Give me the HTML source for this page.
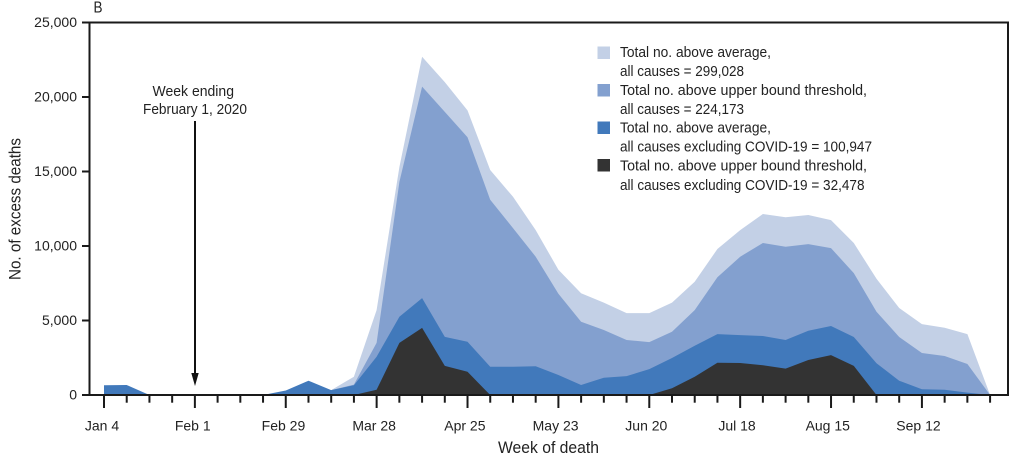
<!DOCTYPE html>
<html lang="en">
<head>
<meta charset="utf-8">
<title>Excess deaths by week</title>
<style>
  html, body { margin: 0; padding: 0; background: #fff; }
  svg { display: block; }
  text { font-family: "Liberation Sans", sans-serif; fill: #222; }
</style>
</head>
<body>
<svg id="chart" xmlns="http://www.w3.org/2000/svg" width="1020" height="467" viewBox="0 0 1020 467">
  <rect width="1020" height="467" fill="#ffffff"/>
  <g id="areas"></g>
  <g id="axes"></g>

  <text x="93.5" y="12.5" font-size="15.5" textLength="9" lengthAdjust="spacingAndGlyphs">B</text>
  <text transform="translate(20.5,280) rotate(-90)" font-size="17" textLength="142" lengthAdjust="spacingAndGlyphs">No. of excess deaths</text>
  <text x="498" y="453" font-size="17" textLength="101" lengthAdjust="spacingAndGlyphs">Week of death</text>

  <text x="152.5" y="96" font-size="14.5" textLength="81.5" lengthAdjust="spacingAndGlyphs">Week ending</text>
  <text x="143" y="114" font-size="14.5" textLength="104" lengthAdjust="spacingAndGlyphs">February 1, 2020</text>
  <line x1="195" y1="121" x2="195" y2="375" stroke="#111" stroke-width="2"/>
  <polygon points="191.3,373 198.7,373 195,386" fill="#111"/>

  <g>
    <rect x="597.5" y="46.5" width="12.5" height="12.5" fill="#c3d0e6"/>
    <text x="620" y="57" font-size="14.5" textLength="151" lengthAdjust="spacingAndGlyphs">Total no. above average,</text>
    <text x="620" y="76" font-size="14.5" textLength="124" lengthAdjust="spacingAndGlyphs">all causes = 299,028</text>
    <rect x="597.5" y="84" width="12.5" height="12.5" fill="#83a0cf"/>
    <text x="620" y="95" font-size="14.5" textLength="247" lengthAdjust="spacingAndGlyphs">Total no. above upper bound threshold,</text>
    <text x="620" y="114" font-size="14.5" textLength="124" lengthAdjust="spacingAndGlyphs">all causes = 224,173</text>
    <rect x="597.5" y="121.5" width="12.5" height="12.5" fill="#4179bb"/>
    <text x="620" y="132.7" font-size="14.5" textLength="151" lengthAdjust="spacingAndGlyphs">Total no. above average,</text>
    <text x="620" y="151.7" font-size="14.5" textLength="252" lengthAdjust="spacingAndGlyphs">all causes excluding COVID-19 = 100,947</text>
    <rect x="597.5" y="159" width="12.5" height="12.5" fill="#333333"/>
    <text x="620" y="170.7" font-size="14.5" textLength="247" lengthAdjust="spacingAndGlyphs">Total no. above upper bound threshold,</text>
    <text x="620" y="190" font-size="14.5" textLength="244.5" lengthAdjust="spacingAndGlyphs">all causes excluding COVID-19 = 32,478</text>
  </g>
</svg>
<script>
var yTickValues = [0, 5000, 10000, 15000, 20000, 25000];
var xTickLabels = ["Jan 4", "Feb 1", "Feb 29", "Mar 28", "Apr 25", "May 23", "Jun 20", "Jul 18", "Aug 15", "Sep 12"];
var weekCount = 40;

var aboveAverageAll = [0,0,0,0,0,0,0,0,0,0,330,1230,5700,15300,22700,21000,19100,15100,13300,11070,8400,6830,6200,5500,5500,6200,7600,9800,11070,12150,11930,12080,11740,10200,7800,5840,4760,4520,4090,0];
var aboveThresholdAll = [0,0,0,0,0,0,0,0,0,0,330,700,3500,14300,20700,19000,17300,13100,11200,9280,6800,4920,4360,3690,3550,4250,5700,7900,9280,10200,9950,10130,9860,8180,5590,3890,2820,2620,2080,0];
var aboveAverageExcl = [650,670,0,0,0,0,0,0,300,960,330,650,2570,5250,6500,3900,3580,1900,1900,1930,1340,670,1160,1270,1740,2480,3300,4090,4020,3960,3690,4310,4630,3890,2130,960,390,350,160,0];
var aboveThresholdExcl = [0,0,0,0,0,0,0,0,0,0,0,0,350,3500,4500,1950,1560,0,0,0,0,0,0,0,0,450,1230,2170,2150,2000,1770,2350,2680,1950,0,0,0,0,0,0];

function xScale(i) { return 104 + 22.72 * i; }
function labelX(i) { return 102 + 22.68 * i; }
function yScale(v) { return 395 - v * 372.5 / 25000; }

var NS = "http://www.w3.org/2000/svg";
var areas = document.getElementById("areas");
var axes = document.getElementById("axes");

function areaPoints(values) {
  var pts = [xScale(0).toFixed(1) + "," + yScale(0).toFixed(1)];
  for (var i = 0; i < values.length; i++) {
    pts.push(xScale(i).toFixed(1) + "," + yScale(values[i]).toFixed(1));
  }
  pts.push(xScale(values.length - 1).toFixed(1) + "," + yScale(0).toFixed(1));
  return pts.join(" ");
}

var a1 = document.createElementNS(NS, "polygon");


a1.setAttribute("points", areaPoints(aboveAverageAll));
a1.setAttribute("fill", "#c3d0e6");
areas.appendChild(a1);

var a2 = document.createElementNS(NS, "polygon");


a2.setAttribute("points", areaPoints(aboveThresholdAll));
a2.setAttribute("fill", "#83a0cf");
areas.appendChild(a2);

var a3 = document.createElementNS(NS, "polygon");


a3.setAttribute("points", areaPoints(aboveAverageExcl));
a3.setAttribute("fill", "#4179bb");
areas.appendChild(a3);

var a4 = document.createElementNS(NS, "polygon");


a4.setAttribute("points", areaPoints(aboveThresholdExcl));
a4.setAttribute("fill", "#333333");
areas.appendChild(a4);

var frame = document.createElementNS(NS, "path");


frame.setAttribute("d", "M82 " + yScale(25000) + "H1008V" + yScale(0) + "H82M89.5 " + yScale(25000) + "V" + yScale(0));
frame.setAttribute("fill", "none");
frame.setAttribute("stroke", "#1a1a1a");
frame.setAttribute("stroke-width", "2");
axes.appendChild(frame);

yTickValues.forEach(function (v) {
  var tick = document.createElementNS(NS, "line");
  
  
  tick.setAttribute("x1", 82);
  tick.setAttribute("x2", 89.5);
  tick.setAttribute("y1", yScale(v));
  tick.setAttribute("y2", yScale(v));
  tick.setAttribute("stroke", "#1a1a1a");
  tick.setAttribute("stroke-width", "2");
  axes.appendChild(tick);

  var label = document.createElementNS(NS, "text");
  
  
  label.setAttribute("x", 77);
  label.setAttribute("y", yScale(v) + 4.5);
  label.setAttribute("text-anchor", "end");
  label.setAttribute("font-size", "14");
  label.textContent = v.toLocaleString("en-US");
  axes.appendChild(label);
});

for (var w = 0; w < weekCount; w++) {
  var major = w % 4 === 0 && w / 4 < xTickLabels.length;
  var xt = document.createElementNS(NS, "line");
  
  
  xt.setAttribute("x1", xScale(w));
  xt.setAttribute("x2", xScale(w));
  xt.setAttribute("y1", yScale(0));
  xt.setAttribute("y2", major ? 408 : 402.7);
  xt.setAttribute("stroke", "#1a1a1a");
  xt.setAttribute("stroke-width", "2");
  axes.appendChild(xt);

  if (major) {
    var xl = document.createElementNS(NS, "text");
    
    
    xl.setAttribute("x", labelX(w));
    xl.setAttribute("y", 430.5);
    xl.setAttribute("text-anchor", "middle");
    xl.setAttribute("font-size", "14");
    xl.textContent = xTickLabels[w / 4];
    axes.appendChild(xl);
  }
}
</script>
</body>
</html>
